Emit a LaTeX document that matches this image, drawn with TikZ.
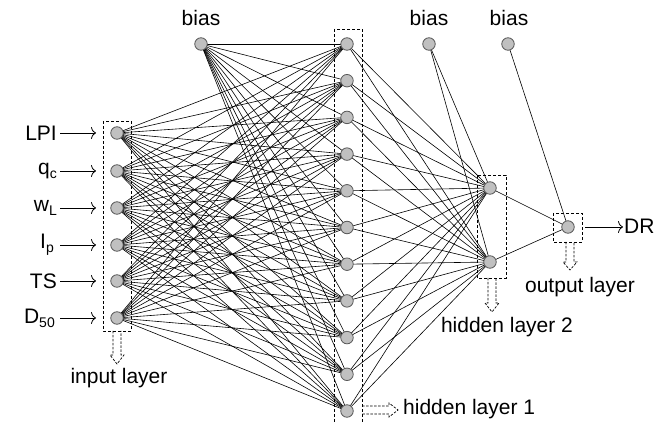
\documentclass[tikz,border=0pt]{standalone}
\usepackage{fontspec}
\setmainfont{Liberation Sans}
\usetikzlibrary{arrows.meta,backgrounds}
\definecolor{nodegray}{RGB}{192,192,192}
\newcommand{\mysub}[1]{\raisebox{-0.35ex}{\fontsize{14}{14}\selectfont #1}}
\tikzset{
  neuron/.style={circle,fill=nodegray,draw=black!65,line width=0.8pt,minimum size=12.5pt,inner sep=0pt},
  lbl/.style={font=\fontsize{21}{24}\selectfont,inner sep=0pt},
  link/.style={line width=0.6pt,black},
  layerbox/.style={draw,line width=0.8pt,dash pattern=on 3pt off 2pt},
  hollow/.style={draw,line width=0.7pt,dash pattern=on 2.5pt off 1.5pt},
  inarrow/.style={line width=0.8pt,-{To[length=5pt,width=12pt]}}
}
\begin{document}
\begin{tikzpicture}[x=1pt,y=-1pt]
\useasboundingbox (0,0) rectangle (665,422);
% input layer
\foreach \i/\y in {1/133,2/171,3/208,4/245,5/281,6/318}
  \node[neuron] (i\i) at (117,\y) {};
% hidden layer 1
\foreach \j in {1,...,11}
  \node[neuron] (h\j) at (347,{44+36.7*(\j-1)}) {};
% bias nodes
\node[neuron] (b1) at (201,44) {};
\node[neuron] (b2) at (429,44) {};
\node[neuron] (b3) at (508,44) {};
% hidden layer 2
\node[neuron] (k1) at (490,188) {};
\node[neuron] (k2) at (490,262) {};
% output
\node[neuron] (o) at (568,227) {};

\begin{pgfonlayer}{background}
\foreach \j in {1,...,11}{
  \foreach \i in {1,...,6}
    \draw[link] (i\i.center) -- (h\j.center);
  \draw[link] (b1.center) -- (h\j.center);
  \draw[link] (h\j.center) -- (k1.center);
  \draw[link] (h\j.center) -- (k2.center);
}
\draw[link] (b2.center) -- (k1.center);
\draw[link] (b2.center) -- (k2.center);
\draw[link] (k1.center) -- (o.center);
\draw[link] (k2.center) -- (o.center);
\draw[link] (b3.center) -- (o.center);
\end{pgfonlayer}

% layer boxes
\draw[layerbox] (103,121) rectangle (131,331);
\draw[layerbox] (334,29) rectangle (362,424);
\draw[layerbox] (477,175) rectangle (506,278);
\draw[layerbox] (553,213) rectangle (582,242);

% hollow dashed arrows
\draw[hollow] (113,331) -- (113,355) -- (110,355) -- (117,364) -- (124,355) -- (121,355) -- (121,331);
\draw[hollow] (488,278) -- (488,303) -- (485,303) -- (492,312) -- (499,303) -- (496,303) -- (496,278);
\draw[hollow] (566,242) -- (566,262) -- (563,262) -- (570,270) -- (577,262) -- (574,262) -- (574,242);
\draw[hollow] (362,406) -- (389,406) -- (389,403) -- (398,410) -- (389,417) -- (389,414) -- (362,414);

% input labels and arrows
\node[lbl,anchor=east] (l1) at (57,133) {LPI};
\node[lbl,anchor=east] (l2) at (57,171) {q\mysub{c}};
\node[lbl,anchor=east] (l3) at (57,208) {w\mysub{L}};
\node[lbl,anchor=east] (l4) at (54,245) {I\mysub{p}};
\node[lbl,anchor=east] (l5) at (57,281) {TS};
\node[lbl,anchor=east] (l6) at (55,318) {D\mysub{50}};
\foreach \i in {1,...,6}
  \draw[inarrow] (60,0 |- i\i) -- (96,0 |- i\i);

% bias labels
\node[lbl] (bl1) at (201,18) {bias};
\node[lbl] (bl2) at (429,18) {bias};
\node[lbl] (bl3) at (509,18) {bias};

% output
\coordinate (dr) at (623,227);
\draw[inarrow] (585,227) -- (dr);
\node[lbl,anchor=west] (drl) at (624,226) {DR};

% layer names
\node[lbl] (il) at (119,378) {input layer};
\node[lbl,anchor=west] (h1l) at (403,409) {hidden layer 1};
\node[lbl] (h2l) at (507,327) {hidden layer 2};
\node[lbl] (ol) at (580,287) {output layer};
\end{tikzpicture}
\end{document}
